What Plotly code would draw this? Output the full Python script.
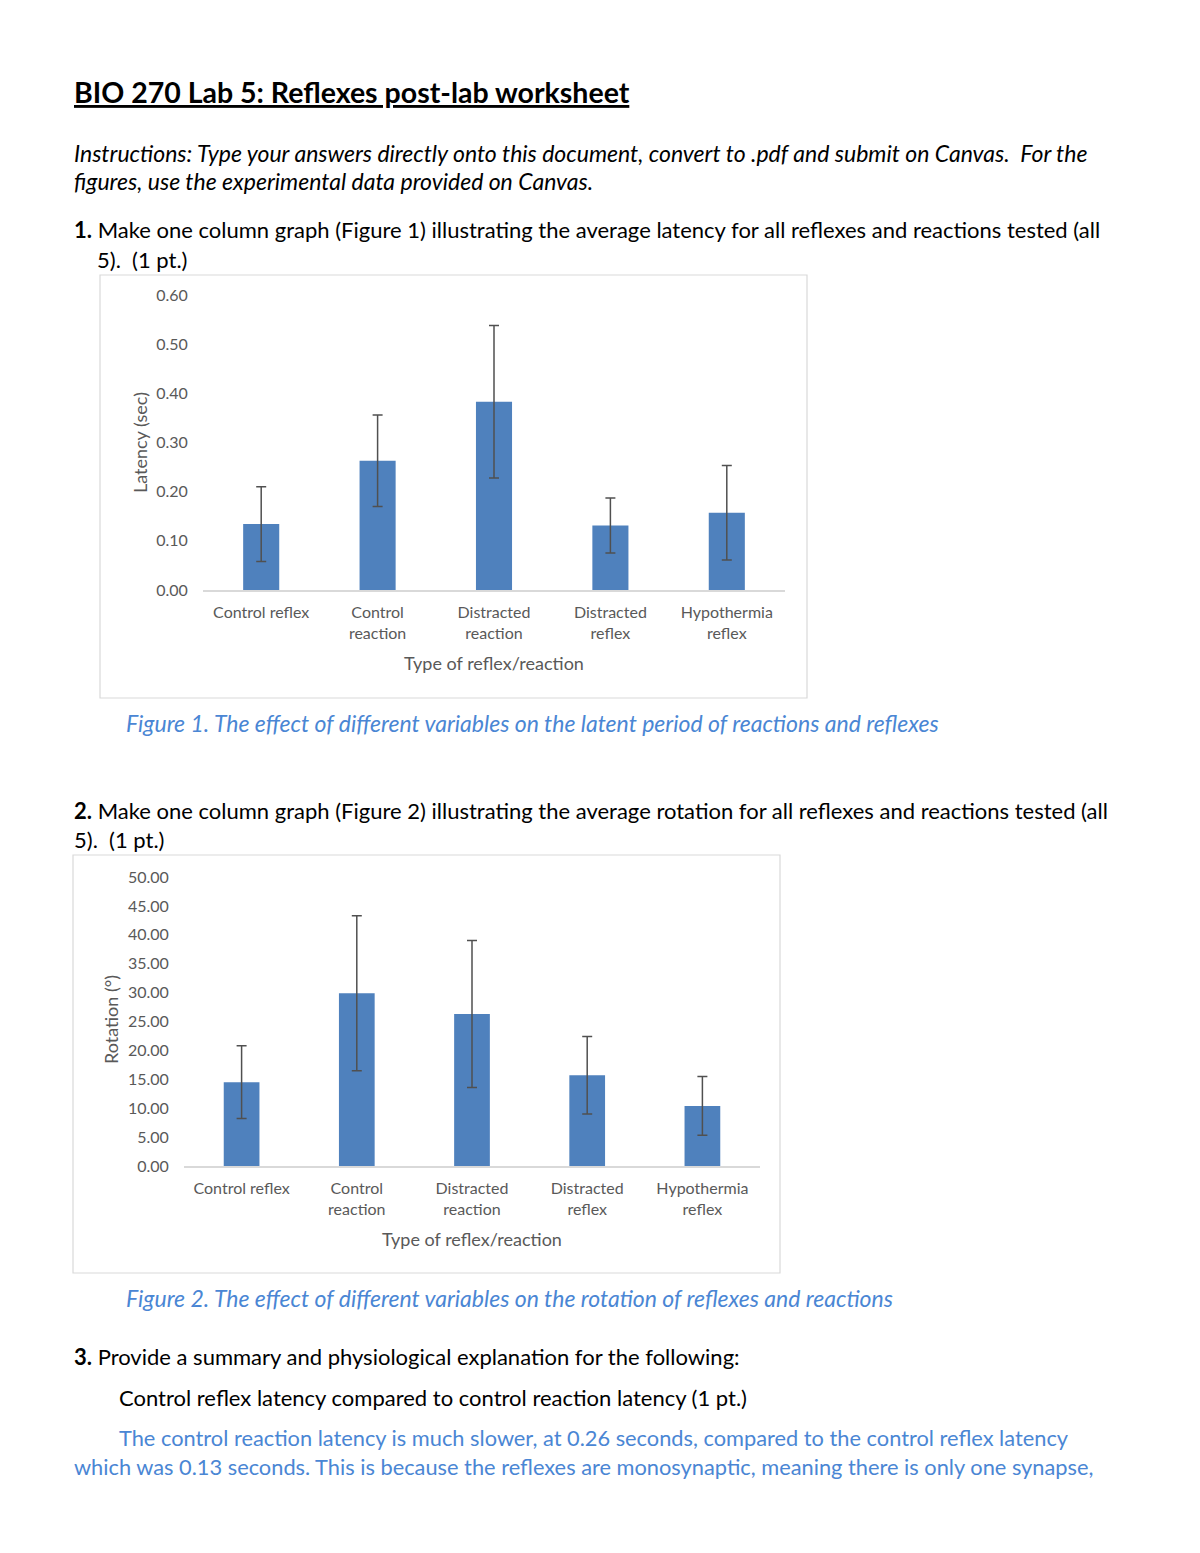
import plotly.graph_objects as go

W, H = 1200, 1553

categories = ["Control reflex", "Control<br>reaction", "Distracted<br>reaction",
              "Distracted<br>reflex", "Hypothermia<br>reflex"]

latency_mean = [0.134, 0.263, 0.383, 0.131, 0.157]
latency_err = [0.076, 0.093, 0.155, 0.056, 0.096]

rotation_mean = [14.5, 29.9, 26.3, 15.7, 10.4]
rotation_err = [6.3, 13.4, 12.7, 6.7, 5.1]

latency_ticks = [0.0, 0.1, 0.2, 0.3, 0.4, 0.5, 0.6]
rotation_ticks = [0, 5, 10, 15, 20, 25, 30, 35, 40, 45, 50]

BAR = "#4F81BD"
ERR = "#505050"
GRID = "#D9D9D9"
TICK = "#595959"
BLUE = "#4A86D4"
FONT = "Lato"


def px(x):
    return x / W


def py(y):
    return 1 - y / H


fig = go.Figure()

fig.add_trace(go.Bar(
    x=categories, y=latency_mean, marker_color=BAR, marker_line_width=0,
    error_y=dict(type="data", array=latency_err, visible=True, color=ERR,
                 thickness=1.5, width=5),
    xaxis="x", yaxis="y", showlegend=False, hoverinfo="skip"))

fig.add_trace(go.Bar(
    x=categories, y=rotation_mean, marker_color=BAR, marker_line_width=0,
    error_y=dict(type="data", array=rotation_err, visible=True, color=ERR,
                 thickness=1.5, width=5),
    xaxis="x2", yaxis="y2", showlegend=False, hoverinfo="skip"))

axis_common = dict(showgrid=False, zeroline=False, fixedrange=True, automargin=False)
tickfont = dict(size=16, color=TICK, family=FONT)

fig.update_layout(
    width=W, height=H,
    margin=dict(l=0, r=0, t=0, b=0, pad=0, autoexpand=False),
    paper_bgcolor="white", plot_bgcolor="white",
    bargap=0.69,
    font=dict(family=FONT, color="#000000"),
    xaxis=dict(domain=[px(203), px(785)], anchor="y", showline=True,
               linecolor=GRID, linewidth=1.5,
               ticks="outside", ticklen=7, tickcolor="rgba(0,0,0,0)",
               tickfont=tickfont, **axis_common),
    yaxis=dict(domain=[py(590), py(295)], anchor="x", range=[0, 0.6],
               tickvals=latency_ticks, tickformat=".2f", showline=False,
               ticks="outside", ticklen=11, tickcolor="rgba(0,0,0,0)",
               tickfont=tickfont, **axis_common),
    xaxis2=dict(domain=[px(184), px(760)], anchor="y2", showline=True,
                linecolor=GRID, linewidth=1.5,
                ticks="outside", ticklen=7, tickcolor="rgba(0,0,0,0)",
                tickfont=tickfont, **axis_common),
    yaxis2=dict(domain=[py(1166), py(877)], anchor="x2", range=[0, 50],
                tickvals=rotation_ticks, tickformat=".2f", showline=False,
                ticks="outside", ticklen=11, tickcolor="rgba(0,0,0,0)",
                tickfont=tickfont, **axis_common),
)

# chart borders
for (x0, y0, x1, y1) in [(100, 275, 807, 698), (73, 855, 780, 1273)]:
    fig.add_shape(type="rect", xref="paper", yref="paper",
                  x0=px(x0), x1=px(x1), y0=py(y0), y1=py(y1),
                  line=dict(color=GRID, width=1.2), fillcolor="rgba(0,0,0,0)")


def note(text, x, y, size=22, color="#000000", italic=False, bold=False,
         angle=0, xanchor="left"):
    fig.add_annotation(
        text=text, xref="paper", yref="paper", x=px(x), y=py(y),
        xanchor=xanchor, yanchor="middle", showarrow=False, textangle=angle,
        font=dict(family=FONT, size=size, color=color,
                  style="italic" if italic else "normal",
                  weight="bold" if bold else "normal"))


S = "\u00a0"

note("<u>BIO 270 Lab 5: Reflexes post-lab worksheet</u>", 72, 92, size=28.5, bold=True)
note("Instructions: Type your answers directly onto this document, convert to .pdf and submit on Canvas." + S * 2 + "For the",
     72, 153, size=23, italic=True)
note("figures, use the experimental data provided on Canvas.", 72, 181, size=23, italic=True)
note("<b>1.</b> Make one column graph (Figure 1) illustrating the average latency for all reflexes and reactions tested (all",
     72, 229)
note("5)." + S * 2 + "(1 pt.)", 95, 259)

# chart 1 axis titles
note("Latency (sec)", 140, 443, size=18, color=TICK, angle=-90, xanchor="center")
note("Type of reflex/reaction", 494, 663, size=18, color=TICK, xanchor="center")

note("Figure 1. The effect of different variables on the latent period of reactions and reflexes",
     124, 723, size=23, color=BLUE, italic=True)

note("<b>2.</b> Make one column graph (Figure 2) illustrating the average rotation for all reflexes and reactions tested (all",
     72, 810)
note("5)." + S * 2 + "(1 pt.)", 72, 839)

# chart 2 axis titles
note("Rotation (°)", 111, 1020, size=18, color=TICK, angle=-90, xanchor="center")
note("Type of reflex/reaction", 472, 1239, size=18, color=TICK, xanchor="center")

note("Figure 2. The effect of different variables on the rotation of reflexes and reactions",
     124, 1298, size=23, color=BLUE, italic=True)

note("<b>3.</b> Provide a summary and physiological explanation for the following:", 72, 1356)
note("Control reflex latency compared to control reaction latency (1 pt.)", 117, 1397)
note("The control reaction latency is much slower, at 0.26 seconds, compared to the control reflex latency",
     117, 1437, size=21.8, color=BLUE)
note("which was 0.13 seconds. This is because the reflexes are monosynaptic, meaning there is only one synapse,",
     72, 1466, size=21.8, color=BLUE)

fig.write_html("out.html",
               config={"displayModeBar": False, "staticPlot": True},
               post_script="document.body.style.margin='0';document.body.style.overflow='hidden';")
